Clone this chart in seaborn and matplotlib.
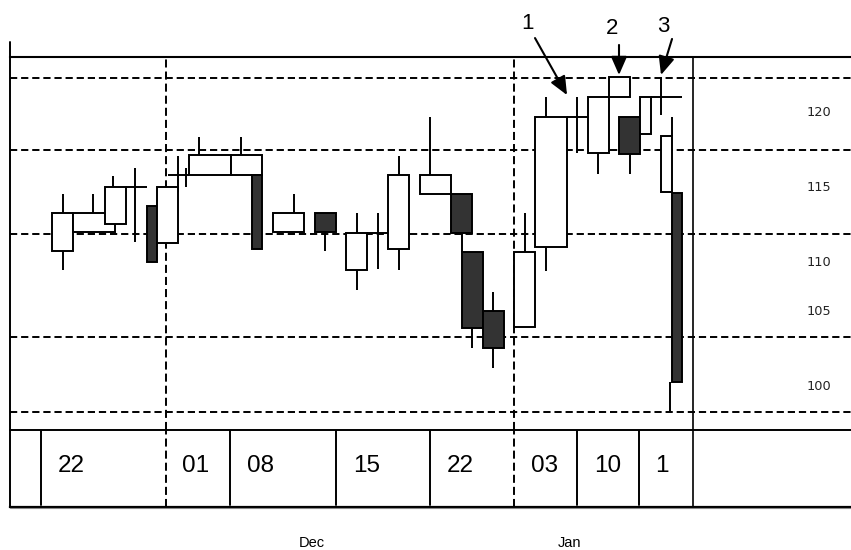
import matplotlib
matplotlib.use("Agg")
import numpy as np
import pandas as pd
import matplotlib.pyplot as plt
import seaborn as sns
from matplotlib.lines import Line2D
from matplotlib import font_manager as fm

# ---------------- data ----------------
# each bar covers trading slots [slot_start, slot_end]
slot_start = [5, 7, 10, 12, 14, 15, 16, 17.76, 18, 22, 24, 26, 30, 33, 35, 37, 40, 43, 44, 46,
              49, 51, 54, 56, 58, 59, 61, 62, 63, 64]
slot_end = [7, 11, 12, 14, 15, 17, 18, 17.76, 22, 25, 25, 29, 32, 35, 37, 39, 43, 45, 46, 48,
            51, 54, 56, 58, 60, 61, 62, 65, 64, 65]
wick_hi_at = [6, 8.9, 10.8, 12.9, 14.5, 16, 17, 17.76, 19, 23, 24.5, 28, 31, 34, 36, 38, 41, 44, 44, 47,
              50, 52, 55, 57, 59, 60, 61.5, 63, 64, 64]
wick_lo_at = [6, 8.9, 10.8, 12.9, 14.5, 16, 17, 17.76, 19, 23, 24.5, 28, 31, 34, 36, 38, 41, 44, 45, 47,
              50, 52, 55, 57, 59, 60, 61.5, 63, 64, 63.86]
open_ = [110.73, 112.0, 112.53, 115.0, 113.73, 111.27, 115.8, 116.27, 115.8, 115.8,
         115.8, 112.0, 113.27, 109.47, 111.93, 110.87, 114.53, 114.53, 110.67, 106.73,
         105.67, 111.0, 119.67, 117.27, 121.0, 119.67, 118.53, 121.0, 114.67, 114.6]
high = [114.53, 114.53, 115.73, 116.27, 113.73, 115.0, 117.07, 116.27, 118.33, 118.33,
        115.8, 114.53, 113.27, 113.27, 113.27, 117.07, 119.67, 114.53, 111.93, 108.0,
        113.27, 121.0, 121.0, 121.0, 122.33, 119.67, 121.0, 122.33, 119.67, 114.6]
low = [109.47, 112.0, 112.0, 111.33, 110.0, 111.27, 114.67, 115.0, 115.8, 115.8,
       110.87, 112.0, 110.73, 108.13, 109.53, 109.47, 114.53, 111.93, 104.27, 102.93,
       105.67, 109.4, 117.27, 115.87, 121.0, 115.87, 118.53, 119.8, 114.67, 100.0]
close = [113.27, 113.27, 115.0, 115.0, 110.0, 115.0, 115.8, 115.0, 117.13, 117.13,
         110.87, 113.27, 112.0, 111.93, 111.93, 115.8, 115.8, 111.93, 105.6, 104.27,
         110.67, 119.67, 119.67, 121.0, 122.33, 117.2, 121.0, 121.0, 118.4, 102.0]

grid_levels = [122.3, 117.5, 111.9, 105.0, 100.0]
price_labels = ["120", "115", "110", "105", "100"]
price_label_at = [120.0, 115.0, 110.0, 106.7, 101.7]

week_starts = [3.95, 15.81, 21.95, 32.05, 41.0, 49.0, 55.0, 60.9]
week_labels = ["22", "01", "08", "15", "22", "03", "10", "1"]
month_breaks = [15.81, 49.0]
month_names = ["Dec", "Jan"]
month_name_at = [29.75, 54.3]
chart_end = 66.05

callout_labels = ["1", "2", "3"]
callout_text_at = [(50.33, 125.93), (58.33, 125.6), (63.19, 125.73)]
callout_tail = [(51.0, 124.93), (59.0, 124.47), (64.05, 124.87)]
callout_tip = [(54.05, 121.13), (59.0, 122.47), (63.0, 122.47)]

df = pd.DataFrame(dict(t0=slot_start, t1=slot_end, wh=wick_hi_at, wl=wick_lo_at,
                       o=open_, h=high, l=low, c=close))
df["top"] = df[["o", "c"]].max(axis=1)
df["bot"] = df[["o", "c"]].min(axis=1)

# ---------------- style ----------------
sns.set_theme(style="white")
plt.rcParams["lines.scale_dashes"] = False
plt.rcParams["font.family"] = ["DejaVu Sans"]

def has_font(name):
    try:
        fm.findfont(fm.FontProperties(family=name), fallback_to_default=False)
        return True
    except Exception:
        return False

narrow = "Liberation Sans Narrow" if has_font("Liberation Sans Narrow") else "Liberation Sans"

W, H = 851, 550
fig = plt.figure(figsize=(W / 100, H / 100), dpi=100, facecolor="white")
ax = fig.add_axes([10 / W, 1 - 430 / H, 841 / W, 373 / H])
axb = fig.add_axes([10 / W, 1 - 507 / H, 841 / W, 77 / H])

xlim = (1.0, 81.095)
for a in (ax, axb):
    a.set_xlim(*xlim)
    a.set_xticks([])
    a.set_yticks([])
    a.set_facecolor("white")
ax.set_ylim(98.8, 123.667)
axb.set_ylim(0, 1)

dash = (0, (5.2, 2.8))
lw = 1.4

# horizontal dashed grid
for g in grid_levels:
    ax.axhline(g, color="black", lw=lw, ls=dash, zorder=1)
# month breaks (dashed verticals)
for m in month_breaks:
    ax.axvline(m, color="black", lw=lw, ls=(0, (5.8, 2.9)), zorder=1)
    axb.axvline(m, color="black", lw=lw, ls=(0, (5.8, 2.9)), zorder=1)
# right border of chart
ax.axvline(chart_end, color="black", lw=1.2, zorder=4)
axb.axvline(chart_end, color="black", lw=1.2, zorder=4)

# wicks
ax.vlines(df["wh"], df["top"], df["h"], color="black", lw=lw, zorder=2)
ax.vlines(df["wl"], df["l"], df["bot"], color="black", lw=lw, zorder=2)
# bodies
fills = ["#333333" if c < o else "white" for o, c in zip(df["o"], df["c"])]
ax.bar(df["t0"], df["c"] - df["o"], width=df["t1"] - df["t0"], bottom=df["o"],
       align="edge", color=fills, edgecolor="black", linewidth=lw, zorder=3)

# price labels
for lab, pos in zip(price_labels, price_label_at):
    ax.text(78.05, pos, lab, ha="center", va="center", fontsize=9.3, color="#222222")

# callouts
for lab, tpos, tail, tip in zip(callout_labels, callout_text_at, callout_tail, callout_tip):
    ax.text(tpos[0], tpos[1], lab, ha="center", va="center", fontsize=16,
            family=narrow, color="black", clip_on=False)
    ax.annotate("", xy=tip, xytext=tail, annotation_clip=False,
                arrowprops=dict(arrowstyle="-|>,head_length=0.8,head_width=0.35",
                                mutation_scale=14, lw=1.5, color="black",
                                shrinkA=0, shrinkB=0))

# spines
for s in ax.spines.values():
    s.set_visible(False)
ax.spines["top"].set_visible(True)
ax.spines["top"].set_linewidth(1.5)
ax.spines["top"].set_color("black")
for s in axb.spines.values():
    s.set_visible(False)
for side in ("top", "bottom"):
    axb.spines[side].set_visible(True)
    axb.spines[side].set_color("black")
axb.spines["top"].set_linewidth(1.4)
axb.spines["bottom"].set_linewidth(1.6)

# week band
for ws, lab in zip(week_starts, week_labels):
    if ws not in month_breaks:
        axb.axvline(ws, ymin=0.02, ymax=1.04, color="black", lw=lw, zorder=2)
    axb.annotate(lab, xy=(ws, 0.53), xycoords=("data", "axes fraction"),
                 xytext=(12.0, 0), textcoords="offset points", ha="left", va="center",
                 fontsize=17.5, family=narrow, color="black")

# month names
for name, pos in zip(month_names, month_name_at):
    axb.annotate(name, xy=(pos, 0), xycoords=("data", "axes fraction"),
                 xytext=(0, -28.5), textcoords="offset points", ha="center", va="baseline",
                 fontsize=10.5, family=narrow, color="black", annotation_clip=False)

# left border line (extends above the top rule) and grey under-rule
fig.add_artist(Line2D([10 / W, 10 / W], [1 - 42 / H, 1 - 506 / H], transform=fig.transFigure,
                      color="black", lw=1.4))
fig.add_artist(Line2D([10 / W, 1.0], [1 - 507.5 / H, 1 - 507.5 / H], transform=fig.transFigure,
                      color="#888888", lw=0.8))

fig.savefig("out.png", dpi=100, facecolor="white")
